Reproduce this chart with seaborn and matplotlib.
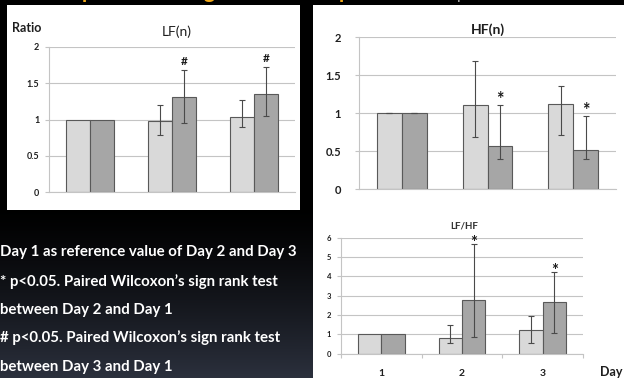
import numpy as np
import pandas as pd
import matplotlib
matplotlib.use("Agg")
import matplotlib.pyplot as plt
import seaborn as sns
from matplotlib.patches import Rectangle

# ---- data -------------------------------------------------------------
days = ["1", "2", "3"]
groups = ["light", "dark"]

lf_light = [1.00, 0.98, 1.04]
lf_dark = [1.00, 1.31, 1.35]
lf_light_lo = [np.nan, 0.79, 0.90]
lf_light_hi = [np.nan, 1.20, 1.27]
lf_dark_lo = [np.nan, 0.95, 1.05]
lf_dark_hi = [np.nan, 1.68, 1.72]
lf_marks = ["", "#", "#"]

hf_light = [1.00, 1.10, 1.12]
hf_dark = [1.00, 0.57, 0.51]
hf_light_lo = [1.00, 0.69, 0.71]
hf_light_hi = [1.00, 1.68, 1.35]
hf_dark_lo = [1.00, 0.39, 0.39]
hf_dark_hi = [1.00, 1.10, 0.96]
hf_marks = ["", "*", "*"]

ratio_light = [1.00, 0.79, 1.22]
ratio_dark = [1.00, 2.78, 2.69]
ratio_light_lo = [np.nan, 0.53, 0.53]
ratio_light_hi = [np.nan, 1.47, 1.97]
ratio_dark_lo = [np.nan, 0.88, 1.09]
ratio_dark_hi = [np.nan, 5.67, 4.21]
ratio_marks = ["", "*", "*"]

lf_ticks = [0, 0.5, 1, 1.5, 2]
lf_ticklabels = ["0", "0.5", "1", "1.5", "2"]
ratio_ticks = [0, 1, 2, 3, 4, 5, 6]

notes = [
    "Day 1 as reference value of Day 2 and Day 3",
    "* p<0.05. Paired Wilcoxon\u2019s sign rank test",
    "between Day 2 and Day 1",
    "# p<0.05. Paired Wilcoxon\u2019s sign rank test",
    "between Day 3 and Day 1",
]

# ---- styling ------------------------------------------------------------
sns.set_theme(style="white")
plt.rcParams["font.family"] = ["Lato", "DejaVu Sans"]

W, H = 624, 378
LIGHT, DARK = "#d9d9d9", "#a6a6a6"
EDGE = "#595959"
GRID = "#c4c4c4"

fig = plt.figure(figsize=(W / 100, H / 100), dpi=100)
fig.patch.set_facecolor("black")


def fx(x):
    return x / W


def fy(y):
    return 1 - y / H


def px_axes(left, top, right, bottom, **kw):
    return fig.add_axes([fx(left), fy(bottom), (right - left) / W, (bottom - top) / H], **kw)


# slide background: black fading to dark slate toward the bottom
bg = fig.add_axes([0, 0, 1, 1], zorder=-10)
rows = np.arange(H)
t = np.clip((rows - 205) / (H - 205), 0, 1) ** 1.3
slate = np.array([0.17, 0.19, 0.24])
grad = t[:, None, None] * slate[None, None, :]
grad = np.repeat(grad, 2, axis=1)
bg.imshow(grad, extent=[0, W, H, 0], aspect="auto", interpolation="bilinear")
bg.add_patch(Rectangle((7, 5), 293, 205, facecolor="white", edgecolor="none"))
bg.add_patch(Rectangle((313, 5), 311, 373, facecolor="white", edgecolor="none"))
bg.set_xlim(0, W)
bg.set_ylim(H, 0)
bg.axis("off")


def panel(ax, light, dark, lights_lo, lights_hi, darks_lo, darks_hi, marks,
          ymax, ticks, ticklabels, tick_fs, tick_pad, mark_fs, mark_off):
    df = pd.DataFrame({
        "day": days * 2,
        "group": [groups[0]] * 3 + [groups[1]] * 3,
        "value": list(light) + list(dark),
    })
    sns.barplot(data=df, x="day", y="value", hue="group", order=days,
                hue_order=groups, palette=[LIGHT, DARK], errorbar=None,
                width=0.58, edgecolor=EDGE, linewidth=0.8, legend=False,
                ax=ax, zorder=2)
    bar_sets = list(ax.containers[:2])
    bounds = [(lights_lo, lights_hi), (darks_lo, darks_hi)]
    for gi, cont in enumerate(bar_sets):
        lo, hi = bounds[gi]
        for i, bar in enumerate(cont):
            if np.isnan(lo[i]):
                continue
            xc = bar.get_x() + bar.get_width() / 2
            val = bar.get_height()
            ax.errorbar([xc], [val], yerr=[[val - lo[i]], [hi[i] - val]],
                        fmt="none", ecolor="#4a4a4a", elinewidth=0.8,
                        capsize=2.0, capthick=0.8, zorder=3)
            if gi == 1 and marks[i]:
                ax.text(xc, hi[i] + mark_off, marks[i], ha="center", va="baseline",
                        fontsize=mark_fs, fontweight="bold", color="#1a1a1a")
    ax.set_xlim(-0.5, 2.5)
    ax.set_ylim(0, ymax)
    ax.set_yticks(ticks)
    ax.set_yticklabels(ticklabels, fontsize=tick_fs, fontweight="bold", color="#1e1e1e")
    ax.yaxis.grid(True, color=GRID, linewidth=0.8)
    ax.set_axisbelow(True)
    ax.set_facecolor("none")
    for s in ("top", "right"):
        ax.spines[s].set_visible(False)
    for s in ("left", "bottom"):
        ax.spines[s].set_color(GRID)
        ax.spines[s].set_linewidth(0.8)
    ax.tick_params(axis="y", length=3, width=0.8, color=GRID, pad=tick_pad, left=True)
    ax.set_xlabel("")
    ax.set_ylabel("")


# LF(n)
ax1 = px_axes(49, 47, 295, 192)
panel(ax1, lf_light, lf_dark, lf_light_lo, lf_light_hi, lf_dark_lo, lf_dark_hi,
      lf_marks, 2, lf_ticks, lf_ticklabels, 6.5, 4, 8.5, 0.07)
ax1.set_xticks([])
fig.text(fx(12), fy(28), "Ratio", fontsize=9, fontweight="bold", color="#1e1e1e",
         ha="left", va="center")
fig.text(fx(177), fy(32), "LF(n)", fontsize=10, color="#1e1e1e", ha="center", va="center")

# HF(n)
ax2 = px_axes(359, 37, 616, 189)
panel(ax2, hf_light, hf_dark, hf_light_lo, hf_light_hi, hf_dark_lo, hf_dark_hi,
      hf_marks, 2, lf_ticks, lf_ticklabels, 8, 10, 13, 0.0)
ax2.set_xticks([])
fig.text(fx(488), fy(30), "HF(n)", fontsize=10, fontweight="bold", color="#1e1e1e",
         ha="center", va="center")

# LF/HF
ax3 = px_axes(341, 237.7, 583, 353.7)
panel(ax3, ratio_light, ratio_dark, ratio_light_lo, ratio_light_hi, ratio_dark_lo,
      ratio_dark_hi, ratio_marks, 6, ratio_ticks, [str(v) for v in ratio_ticks],
      5.5, 4, 12, -0.2)
ax3.set_xticks(range(3))
ax3.set_xticklabels(days, fontsize=7.5, fontweight="bold", color="#1e1e1e")
ax3.set_xticks([-0.5, 0.5, 1.5, 2.5], minor=True)
ax3.tick_params(axis="x", which="major", length=0, pad=11)
ax3.tick_params(axis="x", which="minor", length=3, width=0.8, color=GRID, bottom=True)
fig.text(fx(464), fy(226), "LF/HF", fontsize=7, fontweight="bold", color="#333333",
         ha="center", va="center")
fig.text(fx(611), fy(372), "Day", fontsize=9, fontweight="bold", color="#1e1e1e",
         ha="center", va="center")

# footnotes on the slide
for i, line in enumerate(notes):
    fig.text(fx(0), fy([252, 282, 310, 338, 367][i]), line, fontsize=10.8,
             fontweight="bold", color="white", ha="left", va="center")

# slide heading, mostly above the visible area
heading = [("parison of", 85), ("ges in s", 207), ("pectral", 342)]
for tail, x in heading:
    fig.text(fx(x - 3), fy(-1.5), tail, fontsize=15, fontweight="bold", color="#f0a818",
             ha="left", va="baseline")
fig.text(fx(458), fy(1), "+", fontsize=7, fontweight="bold", color="white",
         ha="center", va="center")

fig.savefig("out.png", dpi=100, facecolor=fig.get_facecolor())
